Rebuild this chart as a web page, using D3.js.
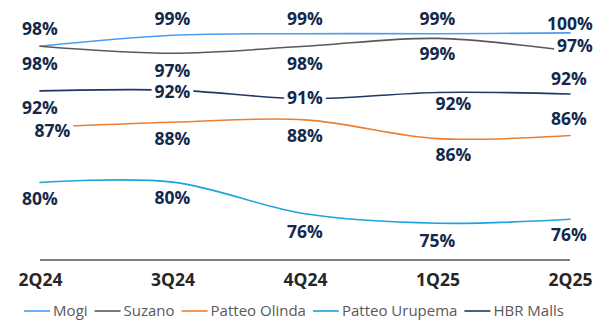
<!DOCTYPE html>
<html>
<head>
<meta charset="utf-8">
<script src="https://cdn.jsdelivr.net/npm/d3@7"></script>
<style>
  html, body { margin: 0; padding: 0; background: #ffffff; }
  svg { display: block; }
</style>
</head>
<body>
<svg id="chart" width="603" height="320"></svg>
<script>
// ---- data ----
const categories = ["2Q24", "3Q24", "4Q24", "1Q25", "2Q25"];
const seriesNames = ["Mogi", "Suzano", "Patteo Olinda", "Patteo Urupema", "HBR Malls"];
const mogi = [97.8, 99.2, 99.4, 99.4, 99.5];
const suzano = [97.8, 96.9, 97.8, 98.8, 97.2];
const patteoOlinda = [87.45, 88.1, 88.4, 86.0, 86.4];
const patteoUrupema = [80.4, 80.45, 76.4, 75.2, 75.7];
const hbrMalls = [92.1, 92.2, 91.1, 91.9, 91.7];

// ---- styling / layout ----
const colors = {
  "Mogi": "#4a9cf5",
  "Suzano": "#595959",
  "Patteo Olinda": "#ed7d31",
  "Patteo Urupema": "#1ca3dd",
  "HBR Malls": "#1f3864"
};
// label offsets relative to the point [dx, dy of text center]
const labelOffsets = {
  "Mogi": [[0, -17.7], [0, -16.3], [0, -14.7], [0, -14.7], [0, -8.9]],
  "Suzano": [[0, 17.8], [0, 17.2], [0, 17.8], [0, 15.6], [5, -4.9]],
  "Patteo Olinda": [[12.5, 3.7], [0, 16.8], [0, 15.5], [16, 15.9], [-1, -16.5]],
  "Patteo Urupema": [[0, 16], [0, 15.6], [0, 18], [0, 17.8], [-1, 15.7]],
  "HBR Malls": [[0, 16.6], [0, 1.4], [0, -1.2], [16, 11.6], [-1, -15]]
};

const values = [mogi, suzano, patteoOlinda, patteoUrupema, hbrMalls];
const series = seriesNames.map((name, i) => ({ name, values: values[i] }));

const svg = d3.select("#chart");
const plotLeft = 40, plotRight = 570, plotTop = 29, plotBottom = 260;

const x = d3.scalePoint().domain(categories).range([plotLeft, plotRight]);
const y = d3.scaleLinear().domain([70.5, 100]).range([plotBottom, plotTop]);

const labelFont = "'Open Sans', 'Noto Sans', sans-serif";
const labelSize = 17.5;
const labelColor = "#13294b";

// category axis
const xAxis = d3.axisBottom(x).tickSize(0).tickPadding(0);
const axisG = svg.append("g").attr("transform", `translate(0,${plotBottom})`).call(xAxis);
axisG.select(".domain").attr("stroke", "#7f7f7f").attr("stroke-width", 2)
  .attr("d", `M${plotLeft},0H${plotRight}`);
axisG.selectAll(".tick text")
  .attr("y", 20 + labelSize * 0.36).attr("dy", null)
  .attr("font-family", labelFont).attr("font-size", labelSize)
  .attr("font-weight", 700).attr("fill", "#262626");

// lines
const line = d3.line()
  .x((d, i) => x(categories[i]))
  .y(d => y(d))
  .curve(d3.curveCardinal.tension(0));

svg.append("g").selectAll("path").data(series).join("path")
  .attr("d", s => line(s.values))
  .attr("fill", "none")
  .attr("stroke", s => colors[s.name])
  .attr("stroke-width", 1.6)
  .attr("stroke-linecap", "round");

// data labels with white background
const labelG = svg.append("g");
series.forEach(s => {
  s.values.forEach((v, i) => {
    const [dx, dy] = labelOffsets[s.name][i];
    const cx = x(categories[i]) + dx;
    const cy = y(v) + dy;
    const g = labelG.append("g");
    const rect = g.append("rect").attr("fill", "#ffffff");
    const t = g.append("text")
      .attr("x", cx).attr("y", cy + labelSize * 0.36)
      .attr("text-anchor", "middle")
      .attr("font-family", labelFont).attr("font-size", labelSize)
      .attr("font-weight", 700).attr("fill", labelColor)
      .text(Math.round(v) + "%");
    const w = t.node().getComputedTextLength();
    rect.attr("x", cx - w / 2 - 3).attr("y", cy - 7.5).attr("width", w + 6).attr("height", 15);
  });
});

// legend
const legendFont = "'Open Sans', 'Noto Sans', sans-serif";
const legendSize = 15;
const legendY = 311;
const legendG = svg.append("g");
let lx = 0;
series.forEach(s => {
  const g = legendG.append("g");
  g.append("line").attr("x1", lx).attr("x2", lx + 26).attr("y1", legendY).attr("y2", legendY)
    .attr("stroke", colors[s.name]).attr("stroke-width", 1.6);
  const t = g.append("text").attr("x", lx + 29).attr("y", legendY + legendSize * 0.36)
    .attr("font-family", legendFont).attr("font-size", legendSize)
    .attr("fill", "#595959").text(s.name);
  const w = t.node().getComputedTextLength();
  lx += 29 + w + 7;
});
const totalW = lx - 7;
legendG.attr("transform", `translate(${294 - totalW / 2},0)`);
</script>
</body>
</html>
